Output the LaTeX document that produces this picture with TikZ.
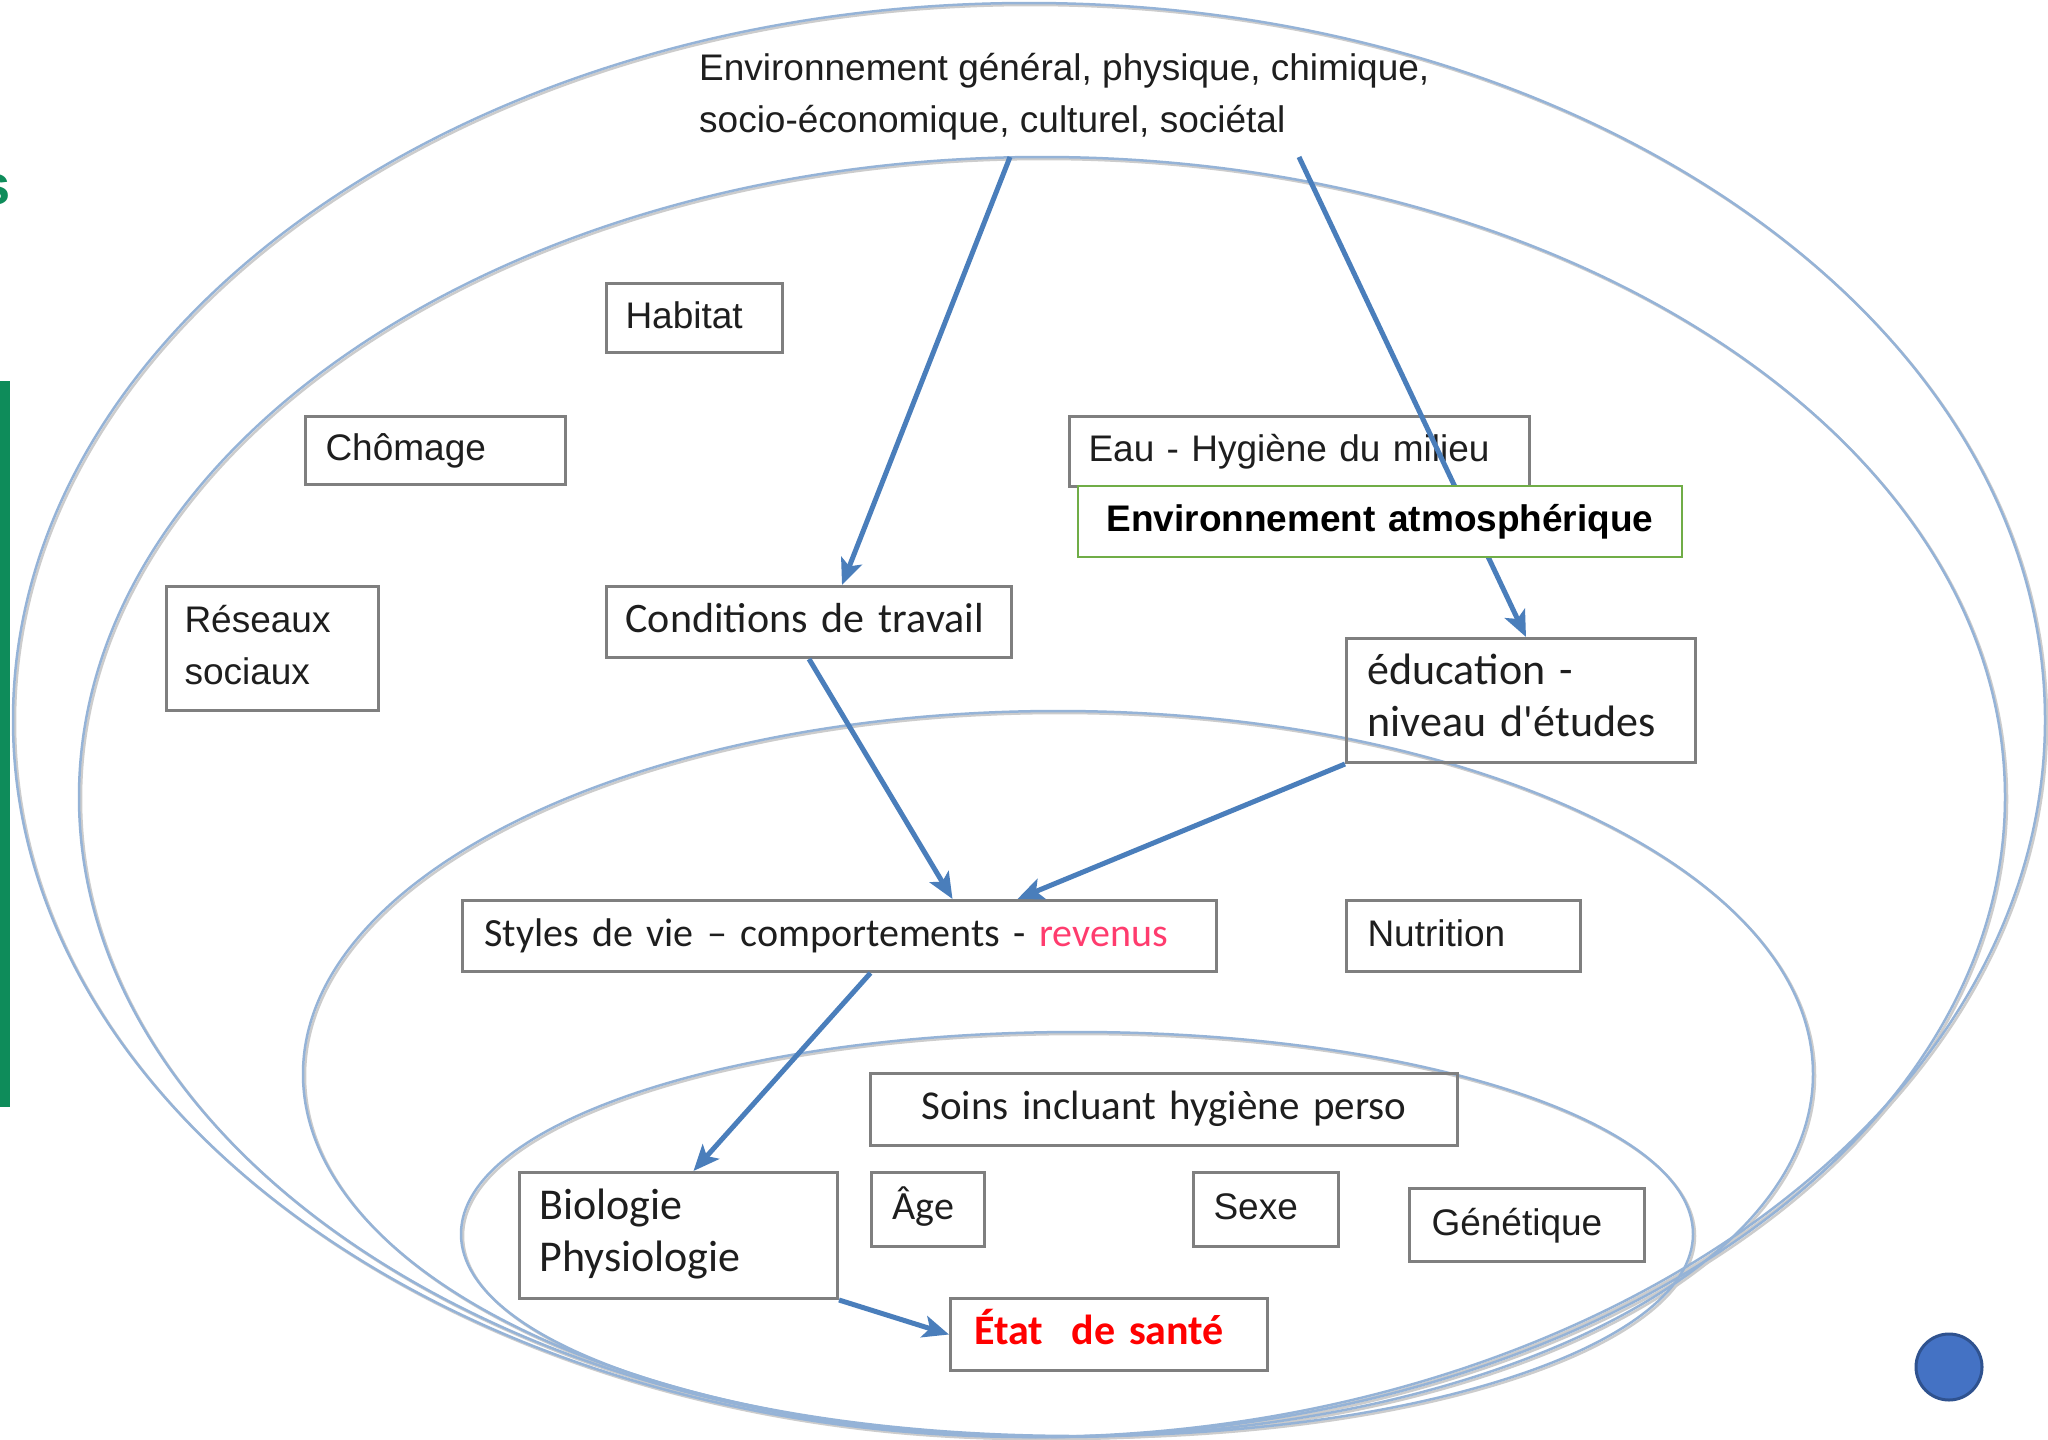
\documentclass[tikz,border=0pt]{standalone}
\usepackage{fontspec}
\setmainfont{Liberation Sans}
\newfontfamily\calfont{Carlito}
\usetikzlibrary{arrows.meta,calc}
\definecolor{ellblue}{RGB}{149,179,215}
\definecolor{arrblue}{RGB}{74,126,187}
\definecolor{boxgray}{RGB}{127,127,127}
\definecolor{envgreen}{RGB}{112,173,71}
\definecolor{revpink}{RGB}{255,60,110}
\definecolor{bargreen}{RGB}{14,140,90}
\definecolor{circfill}{RGB}{68,114,196}
\definecolor{circline}{RGB}{47,82,143}
\definecolor{txt}{RGB}{30,30,30}
\begin{document}
\begin{tikzpicture}[x=1pt,y=-1pt,
  ell/.style={draw=ellblue, line width=2.5pt},
  ellsh/.style={draw=black!20, line width=2.5pt},
  box/.style={draw=boxgray, line width=3pt, anchor=north west, inner ysep=0pt, align=left, text=txt},
  ar/.style={font=\fontsize{37}{52}\selectfont},
  ca/.style={font=\calfont\fontsize{#1}{52}\selectfont},
  link/.style={draw=arrblue, line width=5pt, -{Stealth[length=26pt,width=22pt,inset=6pt]}},
]
\useasboundingbox (0,0) rectangle (2048,1440);
\fill[white] (0,0) rectangle (2048,1440);

% ellipses
\coordinate (e1) at (1029,720);
\coordinate (e2) at (1042,797);
\coordinate (e3) at (1058,1074);
\coordinate (e4) at (1077,1234);
\draw[ellsh] ($(e1)+(2,2)$) ellipse [x radius=1016pt, y radius=717pt];
\draw[ellsh] ($(e2)+(2,2)$) ellipse [x radius=963pt, y radius=640pt];
\draw[ellsh] ($(e3)+(2,2)$) ellipse [x radius=755pt, y radius=363pt];
\draw[ellsh] ($(e4)+(2,2)$) ellipse [x radius=616pt, y radius=202pt];
\draw[ell] (e1) ellipse [x radius=1016pt, y radius=717pt];
\draw[ell] (e2) ellipse [x radius=963pt, y radius=640pt];
\draw[ell] (e3) ellipse [x radius=755pt, y radius=363pt];
\draw[ell] (e4) ellipse [x radius=616pt, y radius=202pt];

% left decorations
\fill[bargreen] (0,381) rectangle (10,1107);
\node[text=bargreen, font=\bfseries\fontsize{56}{60}\selectfont, anchor=east, inner sep=0pt] (gs) at (11,190) {s};

% title
\node[anchor=north west, align=left, inner sep=0pt, ar, text=txt] (title) at (699,44)
  {\strut Environnement général, physique, chimique,\\\strut socio-économique, culturel, sociétal};
\coordinate (a1) at (1010,157);
\coordinate (a2) at (1299,157);

% boxes
\node[box, ar, minimum width=176pt, minimum height=69pt, inner xsep=19pt, text width=138pt] (habitat) at (605,282) {\strut Habitat};
\node[box, ar, minimum width=260pt, minimum height=68pt, inner xsep=20pt, text width=220pt] (chomage) at (304,415) {\strut Chômage};
\node[box, ar, minimum width=460pt, minimum height=70pt, inner xsep=19pt, text width=422pt] (eau) at (1068,415) {\strut Eau - Hygiène du milieu};
\node[box, ar, minimum width=212pt, minimum height=124pt, inner xsep=18pt, text width=176pt] (reseaux) at (165,585) {\strut Réseaux\\\strut sociaux};
\node[box, ca=42, minimum width=405pt, minimum height=71pt, inner xsep=19pt, text width=367pt] (cond) at (605,585) {\strut Conditions de travail};
\node[box, ca=44, minimum width=349pt, minimum height=124pt, inner xsep=21pt, text width=307pt] (educ) at (1345,637) {\strut éducation -\\\strut niveau d'études};
\node[box, ca=40, minimum width=754pt, minimum height=71pt, inner xsep=22pt, text width=710pt] (styles) at (461,899) {\strut Styles de vie – comportements - \textcolor{revpink}{revenus}};
\node[box, ar, minimum width=234pt, minimum height=71pt, inner xsep=21pt, text width=192pt] (nutrition) at (1345,899) {\strut Nutrition};
\node[box, ca=41, align=center, minimum width=587pt, minimum height=72pt, inner xsep=10pt, text width=567pt] (soins) at (869,1072) {\strut Soins incluant hygiène perso};
\node[box, ca=44, minimum width=318pt, minimum height=126pt, inner xsep=20pt, text width=278pt] (bio) at (518,1171) {\strut Biologie\\\strut Physiologie};
\node[box, ca=40, minimum width=113pt, minimum height=74pt, inner xsep=21pt, text width=71pt] (age) at (870,1171) {\strut Âge};
\node[box, ar, minimum width=145pt, minimum height=74pt, inner xsep=20pt, text width=105pt] (sexe) at (1192,1171) {\strut Sexe};
\node[box, ar, minimum width=235pt, minimum height=73pt, inner xsep=22pt, text width=191pt] (gen) at (1408,1187) {\strut Génétique};
\node[box, ca=42, minimum width=317pt, minimum height=72pt, inner xsep=24pt, text width=269pt, text=red] (etat) at (949,1297) {\strut\bfseries État~~de santé};

% arrows
\draw[link] (a1) -- ([xshift=33pt]cond.north);
\draw[link] (a2) -- ([xshift=5pt]educ.north);
\draw[link] (cond.south) -- ([xshift=113pt]styles.north);
\draw[link] (educ.south west) -- ([xshift=178pt]styles.north);
\draw[link] ([xshift=31pt]styles.south) -- ([xshift=15pt]bio.north);
\draw[link] (bio.south east) -- (etat.west);

% atmospheric box on top of the arrow
\node[box, ar, fill=white, draw=envgreen, line width=2pt, align=center, minimum width=604pt, minimum height=71pt, inner xsep=10pt, text width=584pt, text=black] (atmos) at (1077,485) {\strut\bfseries Environnement atmosphérique};

% blue dot
\node[circle, fill=circfill, draw=circline, line width=3pt, minimum size=66pt, inner sep=0pt] (dot) at (1949,1367) {};
\end{tikzpicture}
\end{document}
